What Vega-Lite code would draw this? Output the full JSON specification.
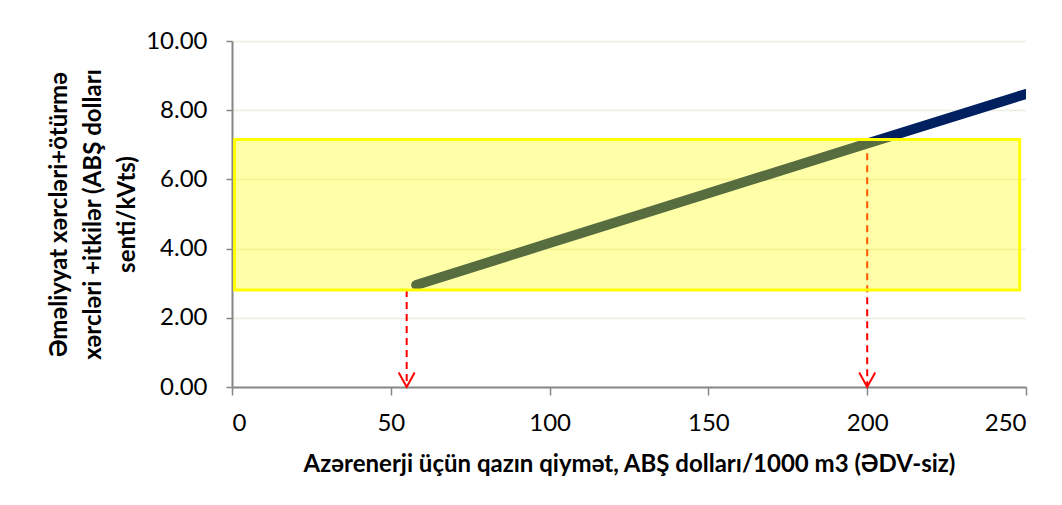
{
  "$schema": "https://vega.github.io/schema/vega-lite/v6.json",
  "width": 794,
  "height": 346,
  "autosize": {"type": "none"},
  "padding": {"left": 232, "top": 41, "right": 36, "bottom": 118},
  "background": "#ffffff",
  "config": {
    "view": {"stroke": null},
    "font": "Lato",
    "axis": {
      "labelFont": "Lato",
      "labelFontSize": 24,
      "labelColor": "#000000",
      "titleFont": "Lato",
      "titleFontSize": 24,
      "titleFontWeight": "bold",
      "titleColor": "#000000",
      "domainColor": "#868686",
      "domainWidth": 2,
      "tickColor": "#868686",
      "tickWidth": 1.5,
      "gridColor": "#ececdf",
      "gridWidth": 1.5
    }
  },
  "datasets": {
    "line": [
      {"price": 58, "cost": 2.95},
      {"price": 100, "cost": 4.16},
      {"price": 150, "cost": 5.6},
      {"price": 200, "cost": 7.04},
      {"price": 250, "cost": 8.47}
    ],
    "band": [
      {"x1": 0.8, "x2": 248, "y1": 2.8, "y2": 7.15}
    ],
    "arrows": [
      {"price": 55, "top": 2.8, "bottom": 0},
      {"price": 200, "top": 7.1, "bottom": 0}
    ]
  },
  "layer": [
    {
      "data": {"name": "arrows"},
      "mark": {"type": "rule", "color": "#ff0000", "strokeWidth": 2, "strokeDash": [7, 5]},
      "encoding": {
        "x": {
          "field": "price", "type": "quantitative",
          "scale": {"domain": [0, 250], "nice": false},
          "axis": {
            "values": [0, 50, 100, 150, 200, 250],
            "format": "d",
            "grid": false,
            "tickSize": 8,
            "labelPadding": 16,
            "titlePadding": 17,
            "title": "Azərenerji üçün qazın qiymət, ABŞ dolları/1000 m3 (ƏDV-siz)"
          }
        },
        "y": {
          "field": "top", "type": "quantitative",
          "scale": {"domain": [0, 10], "nice": false},
          "axis": {
            "values": [0, 2, 4, 6, 8, 10],
            "format": ".2f",
            "grid": true,
            "tickSize": 6,
            "labelPadding": 19,
            "titlePadding": 6,
            "titleLineHeight": 34,
            "title": ["Əməliyyat xərcləri+ötürmə", "xərcləri +itkilər (ABŞ dolları", "senti/kVts)"]
          }
        },
        "y2": {"field": "bottom"}
      }
    },
    {
      "data": {"name": "line"},
      "mark": {"type": "line", "color": "#002060", "strokeWidth": 10, "strokeCap": "round", "clip": true},
      "encoding": {
        "x": {"field": "price", "type": "quantitative"},
        "y": {"field": "cost", "type": "quantitative"}
      }
    },
    {
      "data": {"name": "band"},
      "mark": {"type": "rect", "fill": "#ffff00", "fillOpacity": 0.34, "stroke": "#ffff00", "strokeWidth": 3},
      "encoding": {
        "x": {"field": "x1", "type": "quantitative"},
        "x2": {"field": "x2"},
        "y": {"field": "y1", "type": "quantitative"},
        "y2": {"field": "y2"}
      }
    },
    {
      "data": {"name": "arrows"},
      "mark": {"type": "point", "shape": "M-1,-1.8L0,0L1,-1.8", "filled": false, "stroke": "#ff0000", "strokeWidth": 2, "size": 256, "opacity": 1},
      "encoding": {
        "x": {"field": "price", "type": "quantitative"},
        "y": {"field": "bottom", "type": "quantitative"}
      }
    }
  ]
}
